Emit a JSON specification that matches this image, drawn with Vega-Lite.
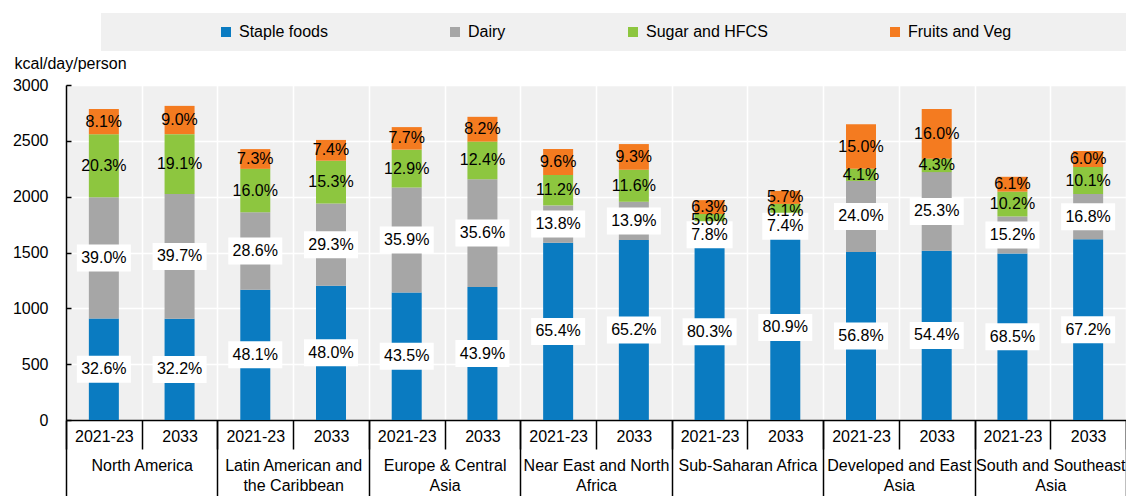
{
  "$schema": "https://vega.github.io/schema/vega-lite/v6.json",
  "autosize": "none",
  "width": 1060,
  "height": 335,
  "padding": {"left": 66, "top": 85, "right": 0, "bottom": 76},
  "background": "white",
  "config": {"view": {"fill": "#f0f0f0", "stroke": null}, "font": "Liberation Sans"},
  "data": {"values": [
    {"region": "North America", "period": "2021-23", "cat": "Staple foods", "ord": 1, "kcal": 908, "pct": 0.326},
    {"region": "North America", "period": "2021-23", "cat": "Dairy", "ord": 2, "kcal": 1086, "pct": 0.390},
    {"region": "North America", "period": "2021-23", "cat": "Sugar and HFCS", "ord": 3, "kcal": 565, "pct": 0.203},
    {"region": "North America", "period": "2021-23", "cat": "Fruits and Veg", "ord": 4, "kcal": 226, "pct": 0.081},
    {"region": "North America", "period": "2033", "cat": "Staple foods", "ord": 1, "kcal": 906, "pct": 0.322},
    {"region": "North America", "period": "2033", "cat": "Dairy", "ord": 2, "kcal": 1117, "pct": 0.397},
    {"region": "North America", "period": "2033", "cat": "Sugar and HFCS", "ord": 3, "kcal": 537, "pct": 0.191},
    {"region": "North America", "period": "2033", "cat": "Fruits and Veg", "ord": 4, "kcal": 253, "pct": 0.090},
    {"region": "Latin American and|the Caribbean", "period": "2021-23", "cat": "Staple foods", "ord": 1, "kcal": 1167, "pct": 0.481},
    {"region": "Latin American and|the Caribbean", "period": "2021-23", "cat": "Dairy", "ord": 2, "kcal": 694, "pct": 0.286},
    {"region": "Latin American and|the Caribbean", "period": "2021-23", "cat": "Sugar and HFCS", "ord": 3, "kcal": 388, "pct": 0.160},
    {"region": "Latin American and|the Caribbean", "period": "2021-23", "cat": "Fruits and Veg", "ord": 4, "kcal": 177, "pct": 0.073},
    {"region": "Latin American and|the Caribbean", "period": "2033", "cat": "Staple foods", "ord": 1, "kcal": 1203, "pct": 0.480},
    {"region": "Latin American and|the Caribbean", "period": "2033", "cat": "Dairy", "ord": 2, "kcal": 735, "pct": 0.293},
    {"region": "Latin American and|the Caribbean", "period": "2033", "cat": "Sugar and HFCS", "ord": 3, "kcal": 384, "pct": 0.153},
    {"region": "Latin American and|the Caribbean", "period": "2033", "cat": "Fruits and Veg", "ord": 4, "kcal": 186, "pct": 0.074},
    {"region": "Europe & Central|Asia", "period": "2021-23", "cat": "Staple foods", "ord": 1, "kcal": 1141, "pct": 0.435},
    {"region": "Europe & Central|Asia", "period": "2021-23", "cat": "Dairy", "ord": 2, "kcal": 942, "pct": 0.359},
    {"region": "Europe & Central|Asia", "period": "2021-23", "cat": "Sugar and HFCS", "ord": 3, "kcal": 338, "pct": 0.129},
    {"region": "Europe & Central|Asia", "period": "2021-23", "cat": "Fruits and Veg", "ord": 4, "kcal": 202, "pct": 0.077},
    {"region": "Europe & Central|Asia", "period": "2033", "cat": "Staple foods", "ord": 1, "kcal": 1191, "pct": 0.439},
    {"region": "Europe & Central|Asia", "period": "2033", "cat": "Dairy", "ord": 2, "kcal": 966, "pct": 0.356},
    {"region": "Europe & Central|Asia", "period": "2033", "cat": "Sugar and HFCS", "ord": 3, "kcal": 336, "pct": 0.124},
    {"region": "Europe & Central|Asia", "period": "2033", "cat": "Fruits and Veg", "ord": 4, "kcal": 222, "pct": 0.082},
    {"region": "Near East and North|Africa", "period": "2021-23", "cat": "Staple foods", "ord": 1, "kcal": 1587, "pct": 0.654},
    {"region": "Near East and North|Africa", "period": "2021-23", "cat": "Dairy", "ord": 2, "kcal": 335, "pct": 0.138},
    {"region": "Near East and North|Africa", "period": "2021-23", "cat": "Sugar and HFCS", "ord": 3, "kcal": 272, "pct": 0.112},
    {"region": "Near East and North|Africa", "period": "2021-23", "cat": "Fruits and Veg", "ord": 4, "kcal": 233, "pct": 0.096},
    {"region": "Near East and North|Africa", "period": "2033", "cat": "Staple foods", "ord": 1, "kcal": 1611, "pct": 0.652},
    {"region": "Near East and North|Africa", "period": "2033", "cat": "Dairy", "ord": 2, "kcal": 343, "pct": 0.139},
    {"region": "Near East and North|Africa", "period": "2033", "cat": "Sugar and HFCS", "ord": 3, "kcal": 287, "pct": 0.116},
    {"region": "Near East and North|Africa", "period": "2033", "cat": "Fruits and Veg", "ord": 4, "kcal": 230, "pct": 0.093},
    {"region": "Sub-Saharan Africa", "period": "2021-23", "cat": "Staple foods", "ord": 1, "kcal": 1581, "pct": 0.803},
    {"region": "Sub-Saharan Africa", "period": "2021-23", "cat": "Dairy", "ord": 2, "kcal": 154, "pct": 0.078},
    {"region": "Sub-Saharan Africa", "period": "2021-23", "cat": "Sugar and HFCS", "ord": 3, "kcal": 110, "pct": 0.056},
    {"region": "Sub-Saharan Africa", "period": "2021-23", "cat": "Fruits and Veg", "ord": 4, "kcal": 124, "pct": 0.063},
    {"region": "Sub-Saharan Africa", "period": "2033", "cat": "Staple foods", "ord": 1, "kcal": 1658, "pct": 0.809},
    {"region": "Sub-Saharan Africa", "period": "2033", "cat": "Dairy", "ord": 2, "kcal": 152, "pct": 0.074},
    {"region": "Sub-Saharan Africa", "period": "2033", "cat": "Sugar and HFCS", "ord": 3, "kcal": 125, "pct": 0.061},
    {"region": "Sub-Saharan Africa", "period": "2033", "cat": "Fruits and Veg", "ord": 4, "kcal": 117, "pct": 0.057},
    {"region": "Developed and East|Asia", "period": "2021-23", "cat": "Staple foods", "ord": 1, "kcal": 1505, "pct": 0.568},
    {"region": "Developed and East|Asia", "period": "2021-23", "cat": "Dairy", "ord": 2, "kcal": 636, "pct": 0.240},
    {"region": "Developed and East|Asia", "period": "2021-23", "cat": "Sugar and HFCS", "ord": 3, "kcal": 109, "pct": 0.041},
    {"region": "Developed and East|Asia", "period": "2021-23", "cat": "Fruits and Veg", "ord": 4, "kcal": 398, "pct": 0.150},
    {"region": "Developed and East|Asia", "period": "2033", "cat": "Staple foods", "ord": 1, "kcal": 1515, "pct": 0.544},
    {"region": "Developed and East|Asia", "period": "2033", "cat": "Dairy", "ord": 2, "kcal": 705, "pct": 0.253},
    {"region": "Developed and East|Asia", "period": "2033", "cat": "Sugar and HFCS", "ord": 3, "kcal": 120, "pct": 0.043},
    {"region": "Developed and East|Asia", "period": "2033", "cat": "Fruits and Veg", "ord": 4, "kcal": 446, "pct": 0.160},
    {"region": "South and Southeast|Asia", "period": "2021-23", "cat": "Staple foods", "ord": 1, "kcal": 1492, "pct": 0.685},
    {"region": "South and Southeast|Asia", "period": "2021-23", "cat": "Dairy", "ord": 2, "kcal": 331, "pct": 0.152},
    {"region": "South and Southeast|Asia", "period": "2021-23", "cat": "Sugar and HFCS", "ord": 3, "kcal": 222, "pct": 0.102},
    {"region": "South and Southeast|Asia", "period": "2021-23", "cat": "Fruits and Veg", "ord": 4, "kcal": 133, "pct": 0.061},
    {"region": "South and Southeast|Asia", "period": "2033", "cat": "Staple foods", "ord": 1, "kcal": 1618, "pct": 0.672},
    {"region": "South and Southeast|Asia", "period": "2033", "cat": "Dairy", "ord": 2, "kcal": 405, "pct": 0.168},
    {"region": "South and Southeast|Asia", "period": "2033", "cat": "Sugar and HFCS", "ord": 3, "kcal": 243, "pct": 0.101},
    {"region": "South and Southeast|Asia", "period": "2033", "cat": "Fruits and Veg", "ord": 4, "kcal": 144, "pct": 0.060}
  ]},
  "transform": [
    {"calculate": "datum.region + '#' + datum.period", "as": "key"},
    {"stack": "kcal", "groupby": ["key"], "sort": [{"field": "ord", "order": "ascending"}], "as": ["lo", "hi"]},
    {"calculate": "(datum.lo + datum.hi) / 2", "as": "mid"}
  ],
  "layer": [
    {
      "layer": [
        {
          "mark": {"type": "bar", "width": 30},
          "encoding": {
            "x": {
              "field": "key", "type": "nominal",
              "scale": {"domain": [
                "North America#2021-23", "North America#2033",
                "Latin American and|the Caribbean#2021-23", "Latin American and|the Caribbean#2033",
                "Europe & Central|Asia#2021-23", "Europe & Central|Asia#2033",
                "Near East and North|Africa#2021-23", "Near East and North|Africa#2033",
                "Sub-Saharan Africa#2021-23", "Sub-Saharan Africa#2033",
                "Developed and East|Asia#2021-23", "Developed and East|Asia#2033",
                "South and Southeast|Asia#2021-23", "South and Southeast|Asia#2033"
              ], "paddingInner": 0, "paddingOuter": 0},
              "axis": {
                "title": null, "orient": "bottom", "labelExpr": "split(datum.label, '#')[1]",
                "labelAngle": 0, "labelFont": "Liberation Sans", "labelFontSize": 16,
                "labelColor": "black", "labelBaseline": "middle", "labelPadding": -13, "labelOverlap": false,
                "tickBand": "extent", "ticks": true, "tickSize": 29, "tickColor": "black", "tickWidth": 1.5,
                "domain": true, "domainColor": "black", "domainWidth": 1.5,
                "grid": true, "gridColor": "white", "gridWidth": 1.5
              }
            },
            "y": {
              "field": "lo", "type": "quantitative",
              "scale": {"domain": [0, 3000], "nice": false},
              "axis": {
                "title": "kcal/day/person", "titleAngle": 0, "titleAlign": "left", "titleBaseline": "middle",
                "titleX": -52, "titleY": -22, "titleFont": "Liberation Sans", "titleFontSize": 16,
                "titleFontWeight": "normal", "titleColor": "black",
                "values": [0, 500, 1000, 1500, 2000, 2500, 3000], "format": "d",
                "labelFont": "Liberation Sans", "labelFontSize": 16, "labelColor": "black", "labelPadding": 23,
                "tickSize": -5, "tickColor": "black", "tickWidth": 1.5,
                "domainColor": "black", "domainWidth": 1.5,
                "grid": true, "gridColor": "white", "gridWidth": 1.5
              }
            },
            "y2": {"field": "hi"},
            "color": {
              "field": "cat", "type": "nominal",
              "scale": {"domain": ["Staple foods", "Dairy", "Sugar and HFCS", "Fruits and Veg"],
                        "range": ["#0a7bc1", "#a6a6a6", "#8dc63f", "#f47b20"]},
              "legend": {
                "orient": "none", "legendX": 35, "legendY": -72, "direction": "horizontal",
                "title": "\u00a0", "titleOrient": "left", "titlePadding": 106, "titleFontSize": 16,
                "fillColor": "#f0f0f0", "padding": 11,
                "symbolType": "square", "symbolSize": 100, "symbolStrokeWidth": 0, "symbolOpacity": 1,
                "labelFont": "Liberation Sans", "labelFontSize": 16, "labelColor": "black", "labelOffset": 5,
                "labelLimit": 400, "columnPadding": 119,
                "labelExpr": "datum.label == 'Fruits and Veg' ? datum.label + '\u2800\u2800\u2800\u2800\u2800\u2800\u2800\u2800\u2800\u2800' : datum.label"
              }
            }
          }
        },
        {
          "transform": [{"filter": "datum.ord <= 2"}],
          "mark": {"type": "bar", "fill": "white", "yOffset": -13.5, "y2Offset": 13.5},
          "encoding": {
            "x": {"field": "key", "type": "nominal"},
            "y": {"field": "mid", "type": "quantitative"},
            "y2": {"field": "mid"},
            "size": {"condition": {"test": "datum.pct < 0.1", "value": 46}, "value": 54}
          }
        },
        {
          "mark": {"type": "text", "font": "Liberation Sans", "fontSize": 16, "color": "black", "align": "center", "baseline": "middle"},
          "encoding": {
            "x": {"field": "key", "type": "nominal"},
            "y": {"field": "mid", "type": "quantitative"},
            "text": {"field": "pct", "type": "quantitative", "format": ".1%"}
          }
        }
      ]
    },
    {
      "mark": {"type": "text", "opacity": 0},
      "encoding": {
        "x": {
          "field": "region", "type": "nominal",
          "scale": {"domain": [
            "North America", "Latin American and|the Caribbean", "Europe & Central|Asia",
            "Near East and North|Africa", "Sub-Saharan Africa", "Developed and East|Asia", "South and Southeast|Asia"
          ], "paddingInner": 0, "paddingOuter": 0},
          "axis": {
            "title": null, "orient": "bottom", "labelExpr": "split(datum.label, '|')",
            "labelAngle": 0, "labelFont": "Liberation Sans", "labelFontSize": 16,
            "labelColor": "black", "labelBaseline": "top", "labelPadding": -39, "labelLineHeight": 20,
            "labelOverlap": false, "labelLimit": 300,
            "tickBand": "extent", "ticks": true, "tickSize": 76, "tickColor": "black", "tickWidth": 1.5,
            "domain": false, "grid": false
          }
        },
        "text": {"value": ""}
      }
    }
  ],
  "resolve": {"scale": {"x": "independent"}, "axis": {"x": "independent"}}
}
